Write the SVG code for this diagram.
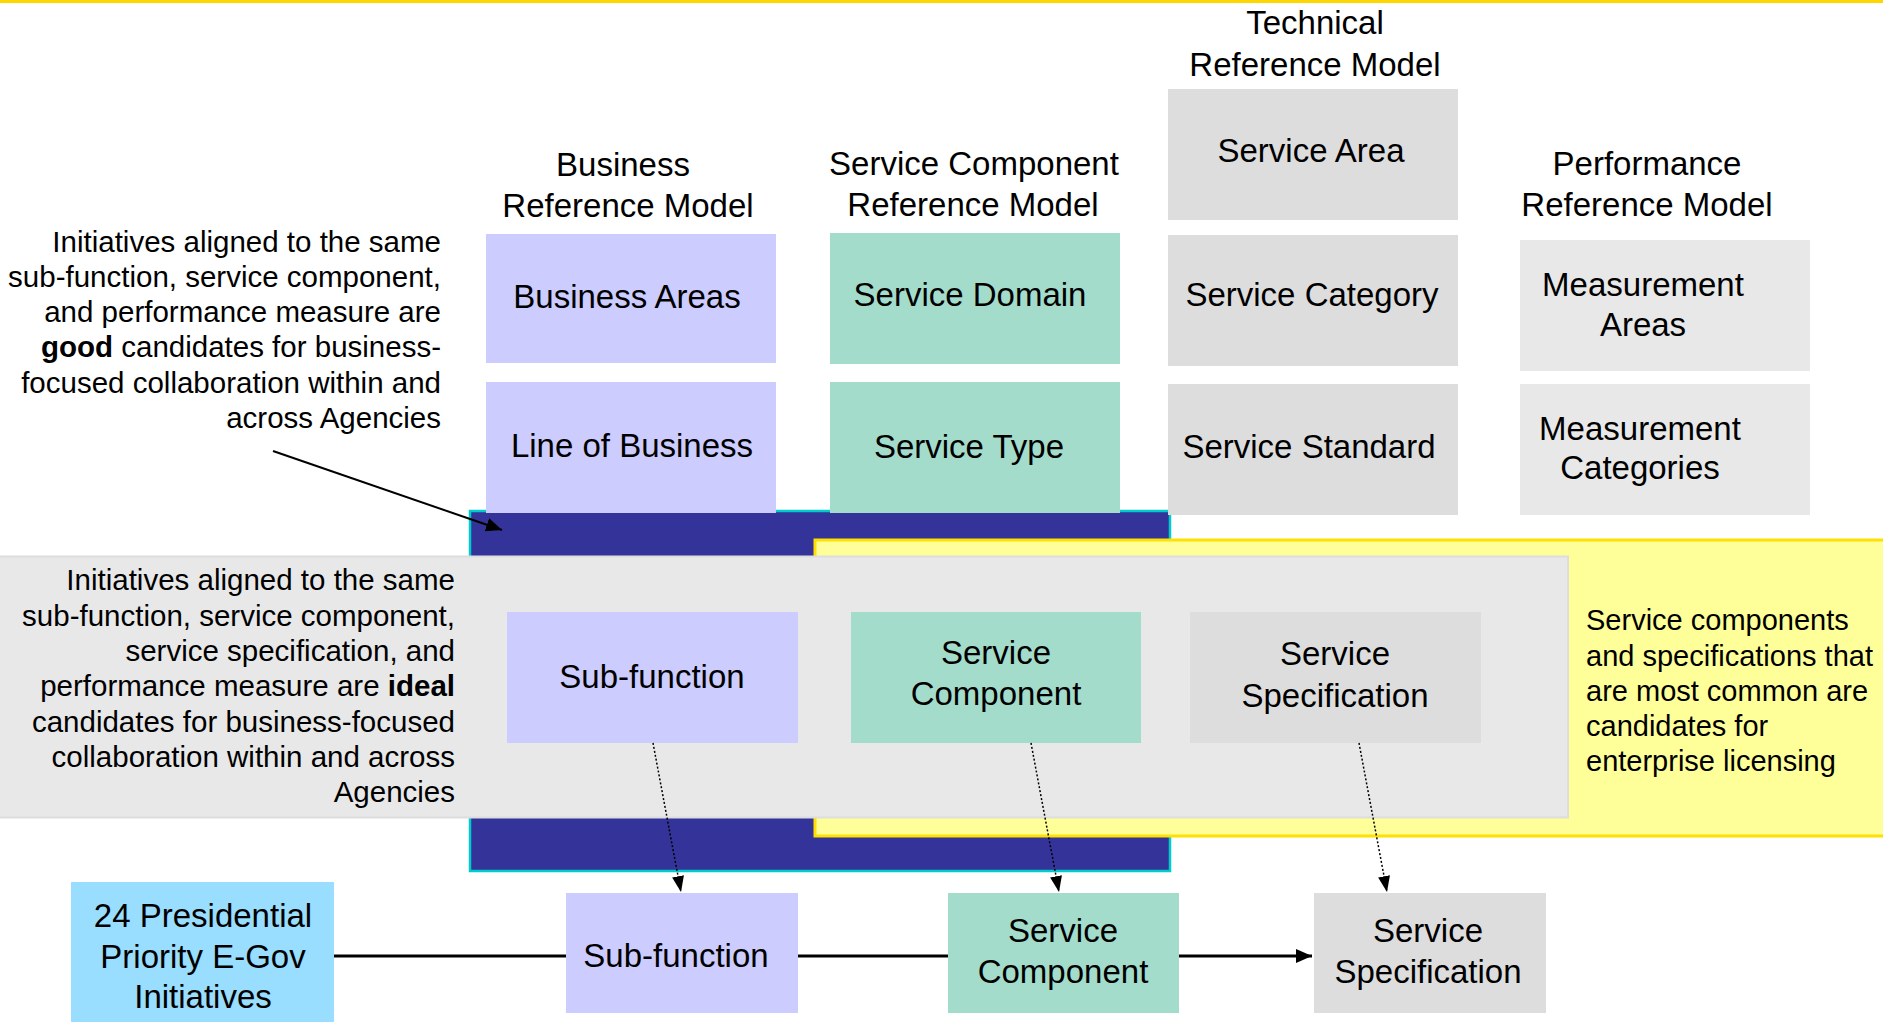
<svg xmlns="http://www.w3.org/2000/svg" width="1883" height="1022" viewBox="0 0 1883 1022">
<style>
text{font-family:"Liberation Sans",Arial,sans-serif;fill:#000}
.lbl{font-size:33px;text-anchor:middle}
.note{font-size:29.5px;text-anchor:end}
.ynote{font-size:29px}
.lav{fill:#CCCCFF}
.teal{fill:#A3DCCB}
.gry{fill:#DDDDDD}
.lgry{fill:#E8E8E8}
.sky{fill:#99DDFF}
.solid{stroke:#000;stroke-width:3;fill:none}
.dot{stroke:#000;stroke-width:1.5;stroke-dasharray:2 2;fill:none}
</style>
<defs>
<marker id="ah" markerWidth="16" markerHeight="14" refX="16" refY="7" orient="auto" markerUnits="userSpaceOnUse"><path d="M0,0 L16,7 L0,14 z" fill="#000"/></marker>
<marker id="ahs" markerWidth="16" markerHeight="12" refX="16" refY="6" orient="auto" markerUnits="userSpaceOnUse"><path d="M0,0 L16,6 L0,12 z" fill="#000"/></marker>
</defs>
<rect x="0" y="0" width="1883" height="1022" fill="#FFFFFF"/>
<rect x="0" y="0" width="1883" height="3" fill="#FFD700"/>
<g id="bands">
<rect id="band-blue" x="470" y="511" width="700" height="360" fill="#333399" stroke="#00CCCC" stroke-width="2.5"/>
<rect id="band-yellow" x="815" y="540" width="1080" height="296" fill="#FFFF99" stroke="#FFE000" stroke-width="3"/>
<rect id="band-gray" x="-2" y="556.5" width="1570" height="261" fill="#E8E8E8" stroke="#DDDDDD" stroke-width="2"/>
</g>
<g id="hdr-brm"><text class="lbl" x="623" y="176">Business</text><text class="lbl" x="628" y="217">Reference Model</text></g>
<g id="hdr-srm"><text class="lbl" x="974" y="175">Service Component</text><text class="lbl" x="973" y="216">Reference Model</text></g>
<g id="hdr-trm"><text class="lbl" x="1315" y="34">Technical</text><text class="lbl" x="1315" y="76">Reference Model</text></g>
<g id="hdr-prm"><text class="lbl" x="1647" y="175">Performance</text><text class="lbl" x="1647" y="216">Reference Model</text></g>
<g id="note-good"><text class="note"><tspan x="441" y="252">Initiatives aligned to the same</tspan><tspan x="441" y="287">sub-function, service component,</tspan><tspan x="441" y="322">and performance measure are</tspan><tspan x="441" y="357"><tspan font-weight="bold">good</tspan> candidates for business-</tspan><tspan x="441" y="393">focused collaboration within and</tspan><tspan x="441" y="428">across Agencies</tspan></text></g>
<g id="note-ideal"><text class="note"><tspan x="455" y="590">Initiatives aligned to the same</tspan><tspan x="455" y="626">sub-function, service component,</tspan><tspan x="455" y="661">service specification, and</tspan><tspan x="455" y="696">performance measure are <tspan font-weight="bold">ideal</tspan></tspan><tspan x="455" y="732">candidates for business-focused</tspan><tspan x="455" y="767">collaboration within and across</tspan><tspan x="455" y="802">Agencies</tspan></text></g>
<g id="note-licensing"><text class="ynote"><tspan x="1586" y="630">Service components</tspan><tspan x="1586" y="666">and specifications that</tspan><tspan x="1586" y="701">are most common are</tspan><tspan x="1586" y="736">candidates for</tspan><tspan x="1586" y="771">enterprise licensing</tspan></text></g>
<g id="brm-areas"><rect class="lav" x="486" y="234" width="290" height="129"/><text class="lbl" x="627" y="308">Business Areas</text></g>
<g id="brm-lob"><rect class="lav" x="486" y="382" width="290" height="131"/><text class="lbl" x="632" y="457">Line of Business</text></g>
<g id="srm-domain"><rect class="teal" x="830" y="233" width="290" height="131"/><text class="lbl" x="970" y="306">Service Domain</text></g>
<g id="srm-type"><rect class="teal" x="830" y="382" width="290" height="131"/><text class="lbl" x="969" y="458">Service Type</text></g>
<g id="trm-area"><rect class="gry" x="1168" y="89" width="290" height="131"/><text class="lbl" x="1311" y="162">Service Area</text></g>
<g id="trm-category"><rect class="gry" x="1168" y="235" width="290" height="131"/><text class="lbl" x="1312" y="306">Service Category</text></g>
<g id="trm-standard"><rect class="gry" x="1168" y="384" width="290" height="131"/><text class="lbl" x="1309" y="458">Service Standard</text></g>
<g id="prm-areas"><rect class="lgry" x="1520" y="240" width="290" height="131"/><text class="lbl"><tspan x="1643" y="296">Measurement</tspan><tspan x="1643" y="336">Areas</tspan></text></g>
<g id="prm-categories"><rect class="lgry" x="1520" y="384" width="290" height="131"/><text class="lbl"><tspan x="1640" y="440">Measurement</tspan><tspan x="1640" y="479">Categories</tspan></text></g>
<g id="mid-subfunction"><rect class="lav" x="507" y="612" width="291" height="131"/><text class="lbl" x="652" y="688">Sub-function</text></g>
<g id="mid-component"><rect class="teal" x="851" y="612" width="290" height="131"/><text class="lbl"><tspan x="996" y="664">Service</tspan><tspan x="996" y="705">Component</tspan></text></g>
<g id="mid-specification"><rect class="gry" x="1190" y="612" width="291" height="131"/><text class="lbl"><tspan x="1335" y="665">Service</tspan><tspan x="1335" y="707">Specification</tspan></text></g>
<g id="egov"><rect class="sky" x="71" y="882" width="263" height="142"/><text class="lbl"><tspan x="203" y="927">24 Presidential</tspan><tspan x="203" y="968">Priority E-Gov</tspan><tspan x="203" y="1008">Initiatives</tspan></text></g>
<g id="bot-subfunction"><rect class="lav" x="566" y="893" width="232" height="120"/><text class="lbl" x="676" y="967">Sub-function</text></g>
<g id="bot-component"><rect class="teal" x="948" y="893" width="231" height="120"/><text class="lbl"><tspan x="1063" y="942">Service</tspan><tspan x="1063" y="983">Component</tspan></text></g>
<g id="bot-specification"><rect class="gry" x="1314" y="893" width="232" height="120"/><text class="lbl"><tspan x="1428" y="942">Service</tspan><tspan x="1428" y="983">Specification</tspan></text></g>
<g id="connectors">
<line x1="273" y1="451" x2="502" y2="530" stroke="#000" stroke-width="2" marker-end="url(#ah)"/>
<line class="dot" x1="653" y1="743" x2="681" y2="892" marker-end="url(#ahs)"/>
<line class="dot" x1="1031" y1="743" x2="1059" y2="892" marker-end="url(#ahs)"/>
<line class="dot" x1="1359" y1="743" x2="1387" y2="892" marker-end="url(#ahs)"/>
<line class="solid" x1="334" y1="956" x2="566" y2="956"/>
<line class="solid" x1="798" y1="956" x2="948" y2="956"/>
<line class="solid" x1="1179" y1="956" x2="1312" y2="956" marker-end="url(#ah)"/>
</g>
</svg>
